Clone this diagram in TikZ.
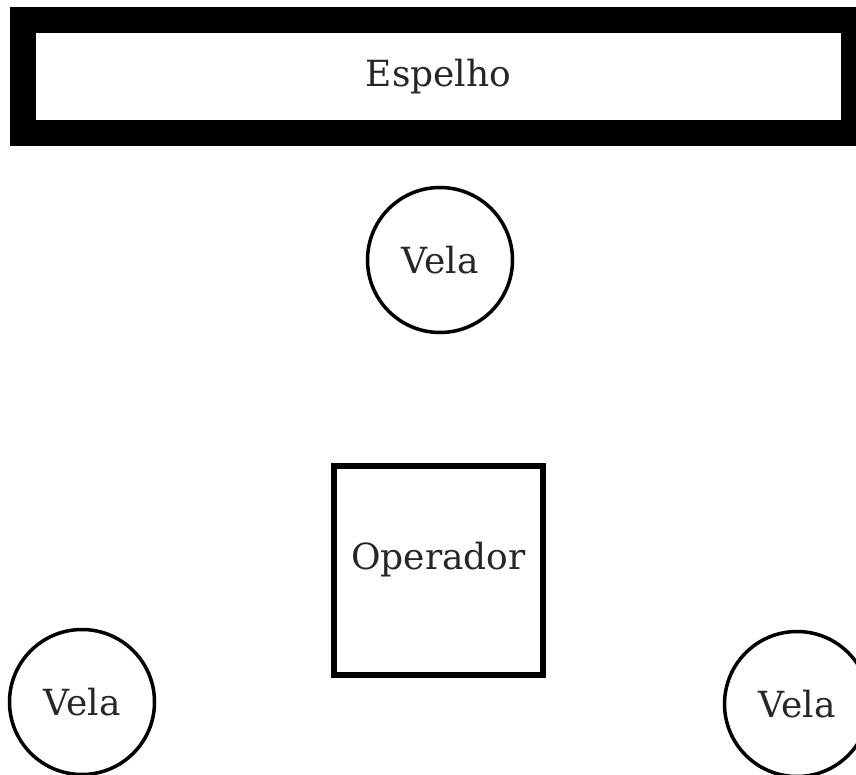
\documentclass[tikz,border=0pt]{standalone}
\usepackage{fontspec}
\setmainfont{DejaVu Serif}
\definecolor{texto}{HTML}{262626}
\begin{document}
\begin{tikzpicture}[x=1pt,y=-1pt,
    vela/.style={circle,draw,line width=3.5pt,minimum size=145pt,inner sep=0pt},
    rotulo/.style={text=texto,font=\fontsize{36}{43}\selectfont,inner sep=0pt}]
    \useasboundingbox (0,0) rectangle (856,775);
    \node[draw,line width=26pt,minimum width=831pt,minimum height=113pt,rotulo] (espelho) at (438.5,76.5) {Espelho}; %espelho
    \node[vela,rotulo] (velacima) at (440,260) {Vela}; %vela de cima
    \node[draw,line width=6pt,minimum size=209pt] (operador) at (438.5,570) {}; %operador
    \node[rotulo] (optexto) at ([yshift=10pt]operador.center) {Operador};
    \node[vela,rotulo] (velaesq) at (82,702) {Vela}; %vela esquerda
    \node[vela,rotulo] (veladir) at (797,704) {Vela}; %vela direita
  \end{tikzpicture}
\end{document}
